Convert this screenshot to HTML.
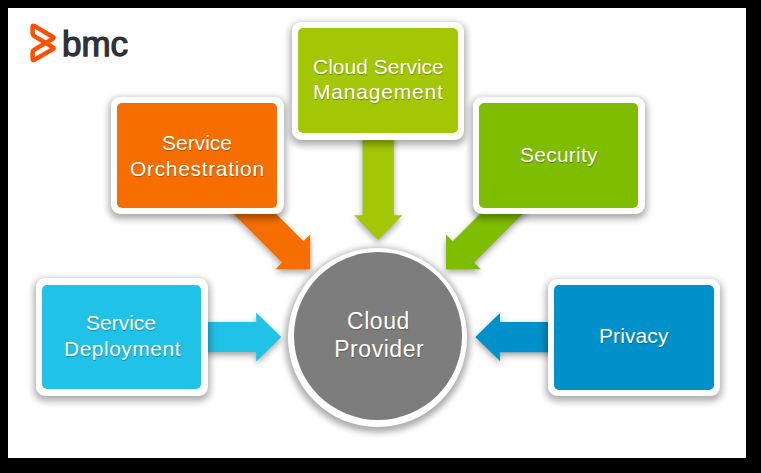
<!DOCTYPE html>
<html><head><meta charset="utf-8">
<style>
html,body{margin:0;padding:0;}
body{width:761px;height:473px;background:#000;position:relative;overflow:hidden;font-family:"Liberation Sans",sans-serif;}
#page{position:absolute;left:8px;top:8px;width:738px;height:450px;background:#fff;}
.a{position:absolute;}
.ob{position:absolute;background:#fff;border-radius:9px;box-shadow:0 3px 7px 2px rgba(0,0,0,.33);}
.fb{position:absolute;border-radius:5px;}
.t{position:absolute;color:#fff;font-size:21px;line-height:21px;white-space:nowrap;text-shadow:0.5px 1px 1px rgba(0,0,0,.3);}
svg{position:absolute;left:0;top:0;}
</style></head>
<body>
<div id="page"></div>
<svg width="761" height="473"><path d="M34.75,26.08 L53.03,36.98 Q54.40,37.80 53.02,38.61 L34.32,49.59 Q32.60,50.60 32.60,52.60 L32.60,58.40 Q32.60,60.90 34.76,59.64 L53.02,49.01 Q54.40,48.20 53.03,47.38 L34.31,36.13 Q32.60,35.10 32.60,33.10 L32.60,27.30 Q32.60,24.80 34.75,26.08 Z" fill="none" stroke="#fe5000" stroke-width="4.5" stroke-linejoin="round"/></svg>
<div class="a" style="left:62px;top:26.2px;font-size:35px;line-height:35px;font-weight:normal;color:#303038;-webkit-text-stroke:1.25px #303038;letter-spacing:0px;">bmc</div>
<svg width="761" height="473" style="filter:drop-shadow(0 3px 3px rgba(0,0,0,.36))">
<polygon fill="#f76e00" points="310.20,269.20 275.41,269.20 282.13,262.48 221.74,202.10 243.10,180.74 303.48,241.13 310.20,234.41"/>
<polygon fill="#7ebd00" points="446.00,269.20 446.00,234.41 452.72,241.13 513.10,180.74 534.46,202.10 474.07,262.48 480.79,269.20"/>
<polygon fill="#a3c705" points="378.20,240.00 354.10,215.30 362.60,215.30 362.60,120.00 393.80,120.00 393.80,215.30 402.30,215.30"/>
<polygon fill="#20c2e8" points="281.20,337.00 256.20,361.40 256.20,352.10 181.20,352.10 181.20,321.90 256.20,321.90 256.20,312.60"/>
<polygon fill="#0091ca" points="475.30,337.10 500.00,313.10 500.00,322.00 575.30,322.00 575.30,352.20 500.00,352.20 500.00,361.10"/>
</svg>
<div class="ob" style="left:110.6px;top:97.2px;width:173.0px;height:116.8px"></div>
<div class="fb" style="left:116.8px;top:103.4px;width:160.6px;height:104.4px;background:#f76e00"></div>
<div class="ob" style="left:292.1px;top:21.5px;width:172.3px;height:118.2px"></div>
<div class="fb" style="left:298.3px;top:27.7px;width:159.9px;height:105.8px;background:#a3c705"></div>
<div class="ob" style="left:473.1px;top:97.1px;width:171.6px;height:117.4px"></div>
<div class="fb" style="left:479.3px;top:103.3px;width:159.2px;height:105.0px;background:#7ebd00"></div>
<div class="ob" style="left:36.0px;top:278.4px;width:171.6px;height:117.2px"></div>
<div class="fb" style="left:42.2px;top:284.6px;width:159.2px;height:104.8px;background:#20c2e8"></div>
<div class="ob" style="left:548.1px;top:278.6px;width:172.1px;height:117.2px"></div>
<div class="fb" style="left:554.3px;top:284.8px;width:159.7px;height:104.8px;background:#0091ca"></div>
<div class="a" style="left:287.6px;top:247.8px;width:179.4px;height:179.4px;border-radius:50%;background:#fff;box-shadow:0 2.5px 6px 3px rgba(0,0,0,.33)"></div>
<div class="a" style="left:293.7px;top:252.4px;width:168.0px;height:168.0px;border-radius:50%;background:#7d7d7d"></div>
<div class="t" style="left:162px;top:131.5px;font-size:21px;line-height:21px;letter-spacing:0px">Service</div>
<div class="t" style="left:130px;top:157.7px;font-size:21px;line-height:21px;letter-spacing:0.67px">Orchestration</div>
<div class="t" style="left:313px;top:55.5px;font-size:21px;line-height:21px;letter-spacing:0px">Cloud Service</div>
<div class="t" style="left:313px;top:81.3px;font-size:21px;line-height:21px;letter-spacing:0.82px">Management</div>
<div class="t" style="left:520px;top:143.7px;font-size:21px;line-height:21px;letter-spacing:0.24px">Security</div>
<div class="t" style="left:86px;top:311.6px;font-size:21px;line-height:21px;letter-spacing:0px">Service</div>
<div class="t" style="left:64px;top:337.8px;font-size:21px;line-height:21px;letter-spacing:0.49px">Deployment</div>
<div class="t" style="left:599px;top:325.3px;font-size:21px;line-height:21px;letter-spacing:0.1px">Privacy</div>
<div class="t" style="left:347px;top:310.3px;font-size:23px;line-height:23px;letter-spacing:0.55px">Cloud</div>
<div class="t" style="left:334.2px;top:338.4px;font-size:23px;line-height:23px;letter-spacing:0.55px">Provider</div>
</body></html>
